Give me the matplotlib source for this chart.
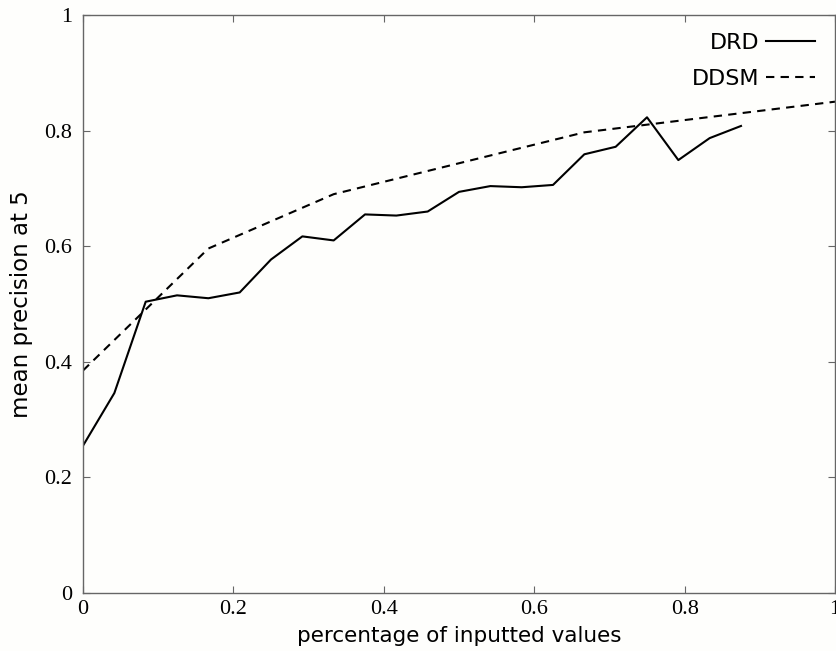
import matplotlib
matplotlib.use("Agg")
import matplotlib.pyplot as plt

# DRD 曲線 (實線)
drd_x = [0, 1/24, 2/24, 3/24, 4/24, 5/24, 6/24, 7/24, 8/24, 9/24, 10/24,
         11/24, 12/24, 13/24, 14/24, 15/24, 16/24, 17/24, 18/24, 19/24, 20/24, 21/24]
drd_y = [0.255, 0.346, 0.504, 0.515, 0.510, 0.520, 0.577, 0.617, 0.610, 0.655, 0.653,
         0.660, 0.694, 0.704, 0.702, 0.706, 0.759, 0.772, 0.823, 0.749, 0.787, 0.808]

# DDSM 曲線 (虛線)
ddsm_x = [0, 1/6, 1/3, 2/3, 1]
ddsm_y = [0.385, 0.596, 0.690, 0.797, 0.850]

xticks = [0, 0.2, 0.4, 0.6, 0.8, 1]
yticks = [0, 0.2, 0.4, 0.6, 0.8, 1]
xtick_labels = ["0", "0.2", "0.4", "0.6", "0.8", "1"]
ytick_labels = ["0", "0.2", "0.4", "0.6", "0.8", "1"]

fig = plt.figure(figsize=(8.37, 6.51), dpi=100, facecolor="#fefefc")
ax = fig.add_axes([0.0992, 0.089, 0.8984, 0.888])
ax.set_facecolor("#fefefc")

ax.plot(drd_x, drd_y, color="black", lw=1.5, label="DRD")
ax.plot(ddsm_x, ddsm_y, color="black", lw=1.5, ls=(0, (4, 3)), label="DDSM")

ax.set_xlim(0, 1)
ax.set_ylim(0, 1)
ax.set_xticks(xticks)
ax.set_yticks(yticks)
ax.set_xticklabels(xtick_labels, family="Liberation Serif", fontsize=16)
ax.set_yticklabels(ytick_labels, family="Liberation Serif", fontsize=16)
ax.tick_params(axis="x", direction="in", length=5, width=0.8, color="#666666",
               top=True, pad=5)
ax.tick_params(axis="y", direction="in", length=5, width=0.8, color="#666666",
               right=True, pad=8)
for s in ax.spines.values():
    s.set_color("#666666")
    s.set_linewidth(1.0)

ax.set_xlabel("percentage of inputted values", fontsize=15.5, labelpad=5)
ax.set_ylabel("mean precision at 5", fontsize=16.5, labelpad=8)

ax.legend(loc="upper right", bbox_to_anchor=(0.985, 0.985), borderaxespad=0,
          frameon=False, markerfirst=False, prop={"size": 16},
          handlelength=2.2, handletextpad=0.3, labelspacing=0.75)

fig.savefig("out.png", dpi=100, facecolor=fig.get_facecolor())
